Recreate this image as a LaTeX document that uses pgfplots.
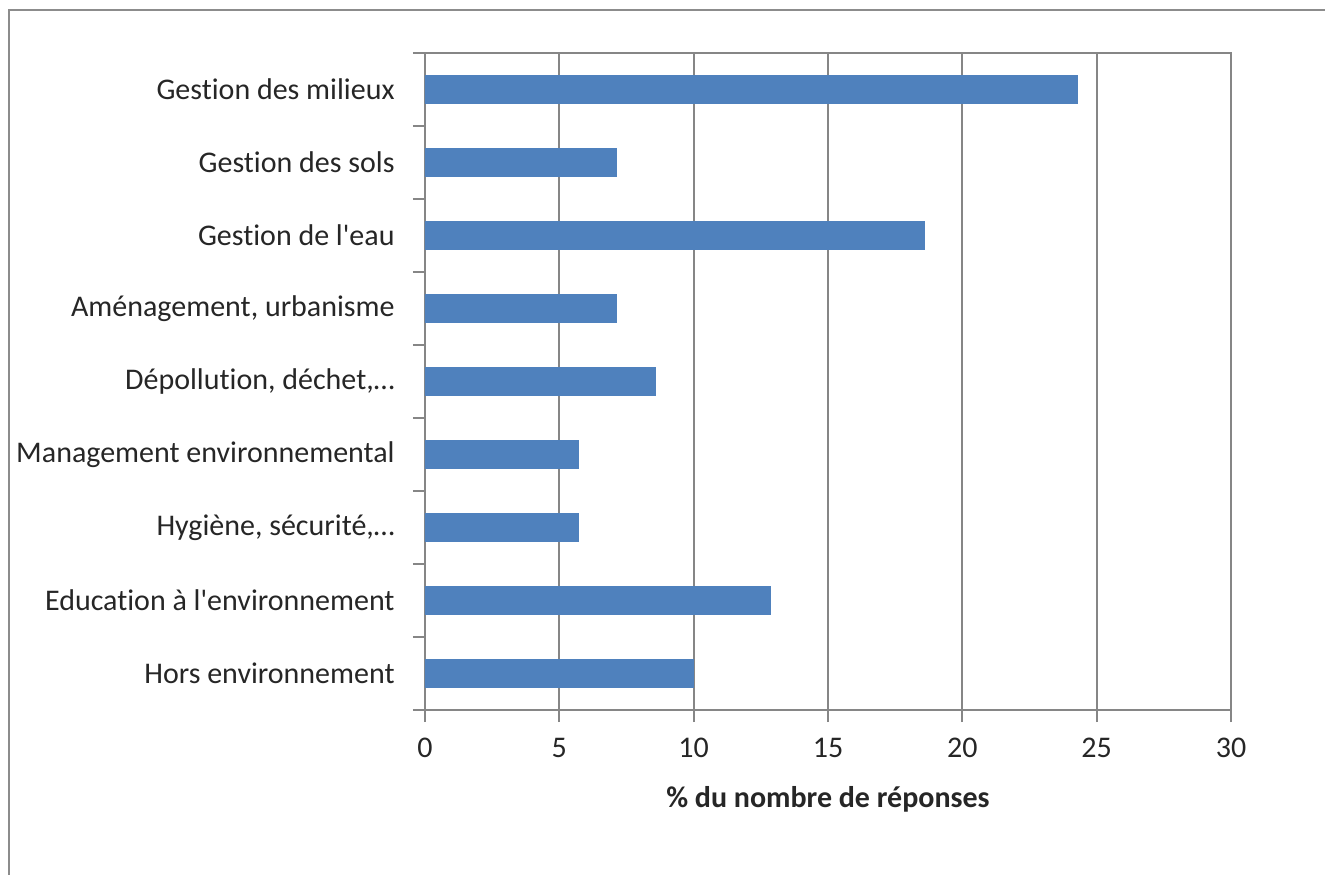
\documentclass[border=0pt]{standalone}
\usepackage{fontspec}
\setmainfont{Carlito}[Ligatures=NoCommon]
\usepackage{pgfplots}
\pgfplotsset{compat=1.18}
\definecolor{barblue}{RGB}{79,129,189}
\definecolor{gridgray}{RGB}{134,134,134}
\definecolor{framegray}{RGB}{140,140,140}
\begin{document}
\fontsize{15}{18}\selectfont
\begin{tikzpicture}
\path[use as bounding box] (-212.5pt,-82pt) rectangle (450pt,355pt);
\begin{scope}
\clip (-212.5pt,-82pt) rectangle (450pt,355pt);
\draw[framegray, line width=1pt] (-208pt,-140pt) rectangle (520pt,350pt);
\end{scope}
\begin{axis}[
  at={(0pt,0pt)}, anchor=south west,
  scale only axis, width=403pt, height=328.5pt,
  xbar, bar width=14pt,
  xmin=0, xmax=30, xtick={0,5,...,30},
  ymin=0.5, ymax=9.5, y dir=reverse,
  ytick={1,...,9},
  yticklabels={Gestion des milieux, Gestion des sols, Gestion de l\textquotesingle eau, {Aménagement, urbanisme}, {Dépollution, déchet,…}, Management environnemental, {Hygiène, sécurité,…}, Education à l\textquotesingle environnement, Hors environnement},
  minor ytick={0.5,1.5,...,9.5},
  tick align=outside, xtick pos=bottom, ytick pos=left,
  major tick length=6pt, minor tick length=6pt,
  major y tick style={draw=none},
  minor y tick style={draw=gridgray, line width=0.9pt},
  major x tick style={draw=gridgray, line width=0.9pt},
  xmajorgrids, major grid style={draw=gridgray, line width=0.9pt},
  axis line style={draw=gridgray, line width=0.9pt},
  tick label style={font=\fontsize{15}{18}\selectfont, text=black!85},
  yticklabel style={xshift=-4pt},
  xticklabel style={yshift=-3pt},
  /pgf/number format/assume math mode=true,
  xlabel={\textbf{\% du nombre de réponses}},
  xlabel style={font=\fontsize{15}{18}\selectfont, text=black!85, yshift=-4pt},
]
\addplot[fill=barblue, draw=barblue] coordinates {
  (24.29,1) (7.14,2) (18.57,3) (7.14,4) (8.57,5) (5.71,6) (5.71,7) (12.86,8) (10.00,9)
};
\end{axis}
\end{tikzpicture}
\end{document}
